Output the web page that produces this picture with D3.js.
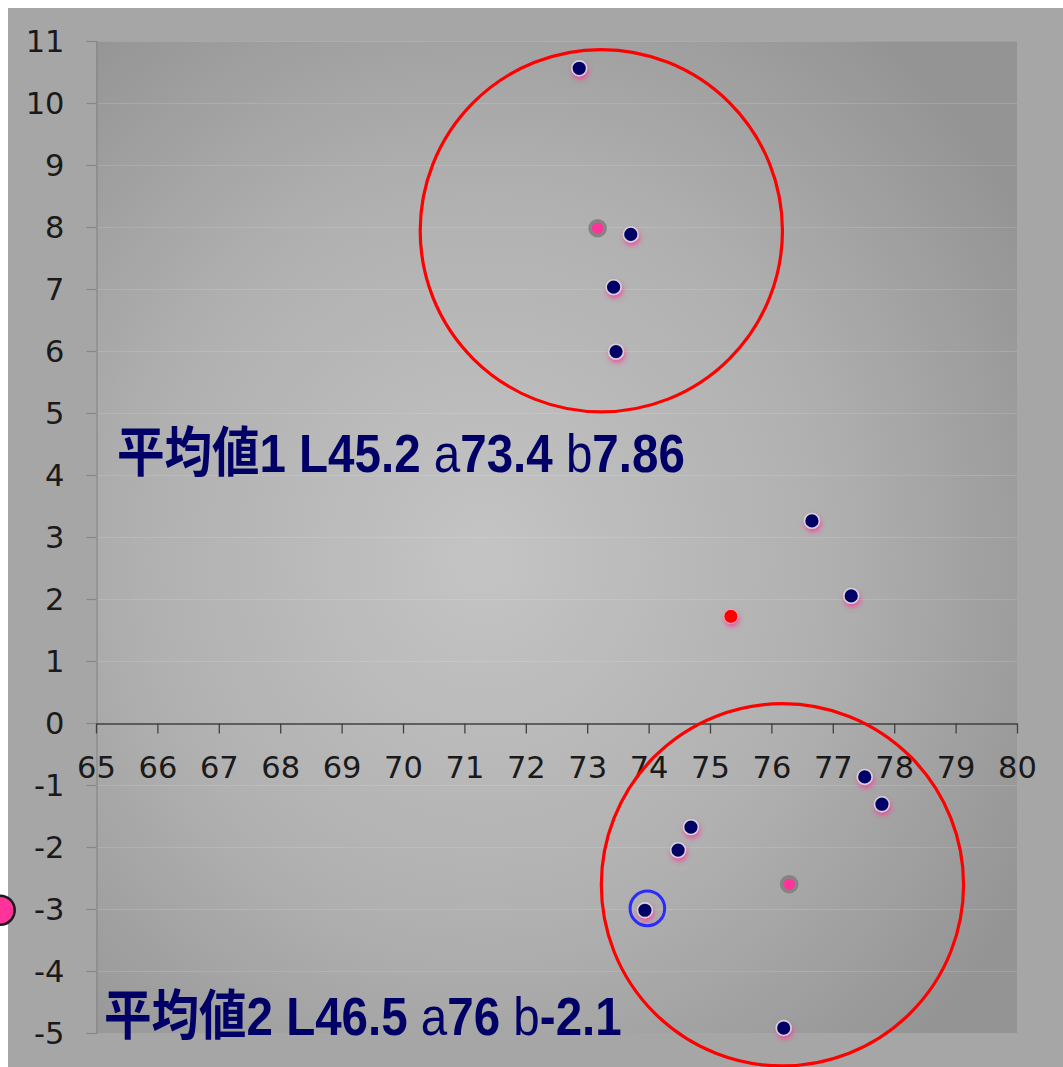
<!DOCTYPE html>
<html>
<head>
<meta charset="utf-8">
<script src="https://cdn.jsdelivr.net/npm/d3@7"></script>
<style>
  html, body { margin: 0; padding: 0; background: #ffffff; overflow: hidden; }
  svg { display: block; }
</style>
</head>
<body>
<div id="chart"></div>
<script>
// ---- data ----
const xTickValues = [65, 66, 67, 68, 69, 70, 71, 72, 73, 74, 75, 76, 77, 78, 79, 80];
const yTickValues = [-5, -4, -3, -2, -1, 0, 1, 2, 3, 4, 5, 6, 7, 8, 9, 10, 11];

// sample points (a*, b*)
const sampleA = [72.87, 73.71, 73.43, 73.47, 76.66, 77.30, 77.52, 77.80, 74.69, 74.48, 73.94, 76.20];
const sampleB = [10.56, 7.88, 7.03, 5.99, 3.26, 2.05, -0.87, -1.31, -1.68, -2.05, -3.02, -4.92];

// group means (plotted)
const meanA = [73.17, 76.29];
const meanB = [7.98, -2.60];

// target point
const targetA = [75.34];
const targetB = [1.72];

// cluster circles (center a, center b, radius in a/b units)
const clusterA = [73.23, 76.18];
const clusterB = [7.94, -2.61];
const clusterR = [2.95, 2.95];

// highlighted sample
const highlightA = [73.98];
const highlightB = [-2.99];

// side marker
const sideA = [63.44];
const sideB = [-3.02];

// annotation labels
const labelA = [65.34, 65.13];
const labelB = [4.05, -5.04];
const label1Parts = ["平均値1 L45.2 ", "a", "73.4 ", "b", "7.86"];
const label2Parts = ["平均値2 L46.5 ", "a", "76 ", "b", "-2.1"];
const partBold = [true, false, true, false, true];

// ---- layout ----
const W = 1063, H = 1067;
const M = { left: 96, top: 41, right: 46, bottom: 34 };
const PW = W - M.left - M.right;  // 921
const PH = H - M.top - M.bottom;  // 992

const svg = d3.select("#chart").append("svg")
  .attr("width", W).attr("height", H);

const defs = svg.append("defs");
const grad = defs.append("radialGradient").attr("id", "bg")
  .attr("cx", 0.42).attr("cy", 0.52).attr("r", 0.68);
grad.append("stop").attr("offset", "0%").attr("stop-color", "#c4c4c4");
grad.append("stop").attr("offset", "55%").attr("stop-color", "#b0b0b0");
grad.append("stop").attr("offset", "100%").attr("stop-color", "#949494");

const glow = defs.append("filter").attr("id", "glow")
  .attr("x", "-100%").attr("y", "-100%").attr("width", "300%").attr("height", "300%");
glow.append("feDropShadow").attr("dx", 1).attr("dy", 3)
  .attr("stdDeviation", 2.6).attr("flood-color", "#ff3399").attr("flood-opacity", 0.75);

// outer chart background
svg.append("rect").attr("x", 8).attr("y", 8).attr("width", W - 8).attr("height", H - 8)
  .attr("fill", "#a6a6a6");

const x = d3.scaleLinear().domain([65, 80]).range([M.left, M.left + PW]);
const y = d3.scaleLinear().domain([-5, 11]).range([M.top + PH, M.top]);

// plot area
svg.append("rect").attr("x", x(65)).attr("y", y(11))
  .attr("width", x(80) - x(65)).attr("height", y(-5) - y(11))
  .attr("fill", "url(#bg)");

// horizontal gridlines
svg.append("g").selectAll("line").data(yTickValues.filter(v => v !== 0 && v !== -5))
  .join("line")
  .attr("x1", x(65)).attr("x2", x(80))
  .attr("y1", d => y(d) + 0.5).attr("y2", d => y(d) + 0.5)
  .attr("stroke", "#ffffff").attr("stroke-opacity", 0.13).attr("stroke-width", 1.2);

const fmt = d => String(d);

// y axis
const yAxis = d3.axisLeft(y).tickValues(yTickValues).tickFormat(fmt)
  .tickSize(10).tickPadding(22);
const gy = svg.append("g").attr("transform", `translate(${x(65) + 0.5},0)`).call(yAxis);
gy.select(".domain").attr("stroke", "#878787").attr("stroke-width", 1.2);
gy.selectAll(".tick line").attr("stroke", "#878787").attr("stroke-width", 1.2);
gy.selectAll(".tick text")
  .attr("font-family", "'DejaVu Sans', Verdana, sans-serif")
  .attr("font-size", 30.5).attr("fill", "#1a1a1a").attr("dy", "0.36em");

// x axis at b = 0
const xAxis = d3.axisBottom(x).tickValues(xTickValues).tickFormat(fmt)
  .tickSize(10).tickPadding(23).tickSizeOuter(0);
const gx = svg.append("g").attr("transform", `translate(0,${y(0) + 0.5})`).call(xAxis);
gx.select(".domain").attr("stroke", "#404040").attr("stroke-width", 1.3);
gx.selectAll(".tick line").attr("stroke", "#404040").attr("stroke-width", 1.3);
gx.selectAll(".tick text")
  .attr("font-family", "'DejaVu Sans', Verdana, sans-serif")
  .attr("font-size", 30.5).attr("fill", "#1a1a1a");

// annotation labels
function drawLabel(parts, ax, bx) {
  const t = svg.append("text")
    .attr("transform", `translate(${x(ax)},${y(bx)}) scale(0.88,1)`)
    .attr("font-family", "'Liberation Sans', Arial, 'Noto Sans CJK JP', sans-serif")
    .attr("font-size", 54).attr("fill", "#000066")
    .attr("xml:space", "preserve");
  parts.forEach((p, i) => {
    t.append("tspan").text(p).attr("font-weight", partBold[i] ? "bold" : "normal");
  });
}
drawLabel(label1Parts, labelA[0], labelB[0]);
drawLabel(label2Parts, labelA[1], labelB[1]);

// cluster circles
const rx = v => x(65 + v) - x(65);
svg.append("g").selectAll("circle").data(clusterA.map((a, i) => [a, clusterB[i], clusterR[i]]))
  .join("circle")
  .attr("cx", d => x(d[0])).attr("cy", d => y(d[1])).attr("r", d => rx(d[2]))
  .attr("fill", "none").attr("stroke", "#ff0000").attr("stroke-width", 3.2);

// samples
svg.append("g").selectAll("circle").data(sampleA.map((a, i) => [a, sampleB[i]]))
  .join("circle")
  .attr("cx", d => x(d[0])).attr("cy", d => y(d[1])).attr("r", 7.4)
  .attr("fill", "#000066").attr("stroke", "#d4d4d8").attr("stroke-width", 1.6)
  .attr("filter", "url(#glow)");

// target
svg.append("g").selectAll("circle").data(targetA.map((a, i) => [a, targetB[i]]))
  .join("circle")
  .attr("cx", d => x(d[0])).attr("cy", d => y(d[1])).attr("r", 7)
  .attr("fill", "#ff0000").attr("stroke", "#e8b0b0").attr("stroke-width", 1)
  .attr("filter", "url(#glow)");

// means
svg.append("g").selectAll("circle").data(meanA.map((a, i) => [a, meanB[i]]))
  .join("circle")
  .attr("cx", d => x(d[0])).attr("cy", d => y(d[1])).attr("r", 7.5)
  .attr("fill", "#ff3399").attr("stroke", "#848484").attr("stroke-width", 3.6);

// highlight ring
svg.append("g").selectAll("circle").data(highlightA.map((a, i) => [a, highlightB[i]]))
  .join("circle")
  .attr("cx", d => x(d[0])).attr("cy", d => y(d[1])).attr("r", 17.3)
  .attr("fill", "none").attr("stroke", "#2b2bff").attr("stroke-width", 3);

// side marker
svg.append("g").selectAll("circle").data(sideA.map((a, i) => [a, sideB[i]]))
  .join("circle")
  .attr("cx", d => x(d[0])).attr("cy", d => y(d[1])).attr("r", 14.5)
  .attr("fill", "#ff3399").attr("stroke", "#1a1a1a").attr("stroke-width", 2.5);
</script>
</body>
</html>
